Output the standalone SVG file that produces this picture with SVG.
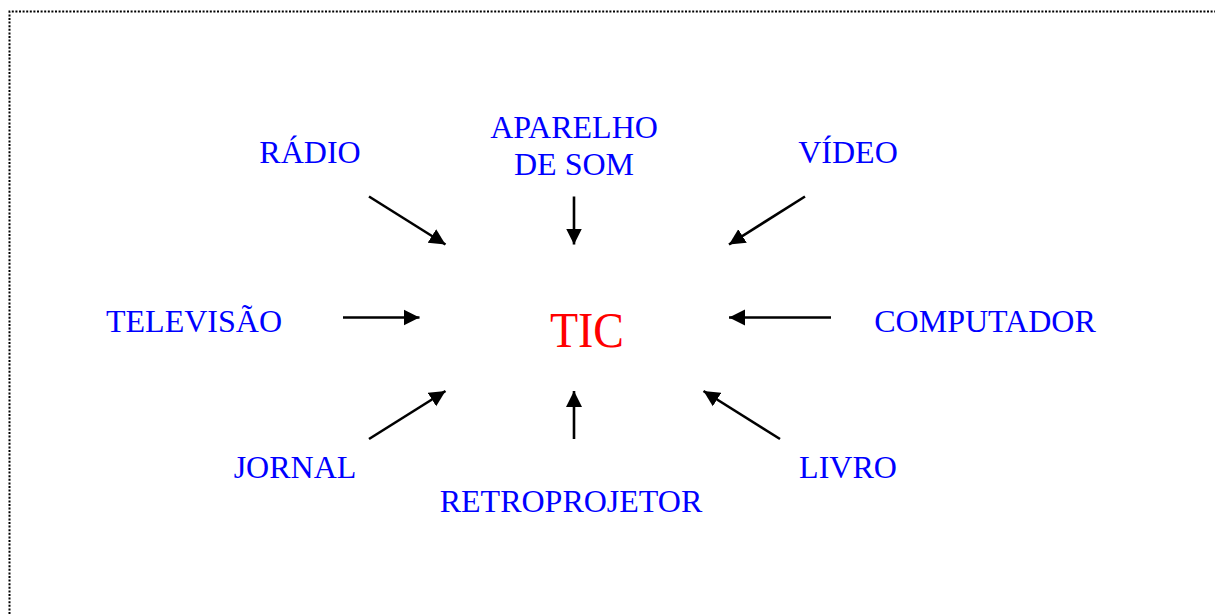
<svg xmlns="http://www.w3.org/2000/svg" width="1215" height="614" viewBox="0 0 1215 614">
<style>
.lbl{font-family:"Liberation Serif","Times New Roman",serif;font-size:32px;fill:#0000FF;text-anchor:middle}
.tic{font-family:"Liberation Serif","Times New Roman",serif;font-size:50px;fill:#FF0000}
.arr{stroke:#000;stroke-width:2.6;fill:none;marker-end:url(#ah)}
.frame{stroke:#000;stroke-width:2;fill:none;stroke-dasharray:2 1.6}
</style>
<defs>
<marker id="ah" markerUnits="userSpaceOnUse" markerWidth="18" markerHeight="18" viewBox="0 0 18 18" refX="16" refY="9" orient="auto">
<path d="M0,1 L16,9 L0,17 Z" fill="#000"/>
</marker>
</defs>
<rect width="1215" height="614" fill="#fff"/>
<path class="frame" d="M9.5,614 V11.5 H1215"/>
<g id="connectors">
<line class="arr" x1="369" y1="196.5" x2="445.5" y2="244.5"/>
<line class="arr" x1="574" y1="196.5" x2="574" y2="244.5"/>
<line class="arr" x1="805" y1="196.5" x2="729" y2="244.5"/>
<line class="arr" x1="343" y1="317.5" x2="419.5" y2="317.5"/>
<line class="arr" x1="831" y1="317.5" x2="729" y2="317.5"/>
<line class="arr" x1="369" y1="439" x2="445.5" y2="391"/>
<line class="arr" x1="574" y1="439" x2="574" y2="391"/>
<line class="arr" x1="780" y1="439" x2="703.5" y2="391"/>
</g>
<g id="tic"><text class="tic" x="550" y="347" textLength="74" lengthAdjust="spacingAndGlyphs">TIC</text></g>
<g id="radio"><text class="lbl" x="310" y="163">RÁDIO</text></g>
<g id="aparelho"><text class="lbl" x="574" y="138">APARELHO</text><text class="lbl" x="574" y="175">DE SOM</text></g>
<g id="video"><text class="lbl" x="848" y="163">VÍDEO</text></g>
<g id="televisao"><text class="lbl" x="194" y="332">TELEVISÃO</text></g>
<g id="computador"><text class="lbl" x="985" y="332">COMPUTADOR</text></g>
<g id="jornal"><text class="lbl" x="295" y="478">JORNAL</text></g>
<g id="livro"><text class="lbl" x="848" y="478">LIVRO</text></g>
<g id="retroprojetor"><text class="lbl" x="571" y="512">RETROPROJETOR</text></g>
</svg>
